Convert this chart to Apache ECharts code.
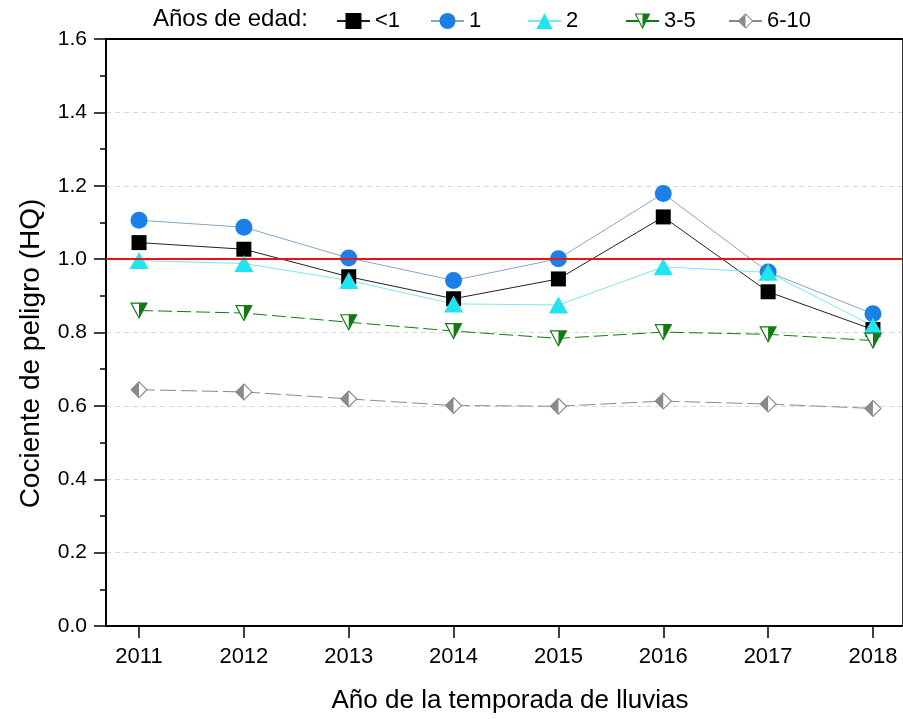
<!DOCTYPE html>
<html>
<head>
<meta charset="utf-8">
<script src="https://cdn.jsdelivr.net/npm/echarts@6/dist/echarts.min.js"></script>
<style>
  html, body { margin: 0; padding: 0; background: #fff; overflow: hidden; }
  #chart { width: 903px; height: 719px; }
</style>
</head>
<body>
<div id="chart"></div>
<script>
// Hazard quotient by rainy-season year and age group
const years = [2011, 2012, 2013, 2014, 2015, 2016, 2017, 2018];
const yTicks = [0, 0.2, 0.4, 0.6, 0.8, 1.0, 1.2, 1.4, 1.6];
const ageGroups = ['<1', '1', '2', '3-5', '6-10'];

const hqUnder1 = [1.045, 1.027, 0.952, 0.892, 0.946, 1.115, 0.911, 0.808];
const hqAge1   = [1.106, 1.087, 1.003, 0.942, 1.001, 1.179, 0.965, 0.851];
const hqAge2   = [0.996, 0.988, 0.942, 0.878, 0.875, 0.979, 0.964, 0.818];
const hqAge3to5  = [0.860, 0.853, 0.828, 0.804, 0.784, 0.801, 0.795, 0.778];
const hqAge6to10 = [0.644, 0.638, 0.619, 0.601, 0.599, 0.613, 0.605, 0.593];
const threshold = 1.0;

const FONT = 'Arial, "Liberation Sans", sans-serif';

function svgSymbol(w, h, body) {
  const svg = "<svg xmlns='http://www.w3.org/2000/svg' width='" + w + "' height='" + h +
    "' viewBox='0 0 " + w + " " + h + "'>" + body + "</svg>";
  return 'image://data:image/svg+xml;charset=utf-8,' + encodeURIComponent(svg);
}

// half-filled marker shapes
const downTriHalf = svgSymbol(34, 32,
  "<path d='M2 2 L32 2 L17 30 Z' fill='#ffffff' stroke='#127a12' stroke-width='2.2' stroke-linejoin='miter'/>" +
  "<path d='M17 2 L32 2 L17 30 Z' fill='#127a12'/>");
const diamondHalf = svgSymbol(34, 34,
  "<path d='M17 2 L32 17 L17 32 L2 17 Z' fill='#ffffff' stroke='#8a8a8a' stroke-width='2.2'/>" +
  "<path d='M17 2 L2 17 L17 32 Z' fill='#8a8a8a'/>");

function pairs(vals) {
  return years.map((y, i) => [y, vals[i]]);
}

const seriesDefs = [
  { name: ageGroups[0], data: hqUnder1, symbol: 'rect', size: 15, color: '#000000', line: '#222222', type: 'solid' },
  { name: ageGroups[1], data: hqAge1, symbol: 'circle', size: 17, color: '#1a7fe6', line: '#86a6c6', type: 'solid' },
  { name: ageGroups[2], data: hqAge2, symbol: 'triangle', size: [19, 17], color: '#22e4ee', line: '#7ee6ee', type: 'solid' },
  { name: ageGroups[3], data: hqAge3to5, symbol: downTriHalf, size: [18, 17], color: '#127a12', line: '#127a12', type: [14, 5] },
  { name: ageGroups[4], data: hqAge6to10, symbol: diamondHalf, size: [18, 18], color: '#8a8a8a', line: '#8a8a8a', type: [16, 5] }
];

const series = seriesDefs.map(d => ({
  name: d.name,
  type: 'line',
  data: pairs(d.data),
  symbol: d.symbol,
  symbolSize: d.size,
  showAllSymbol: true,
  z: 3,
  itemStyle: { color: d.color, opacity: 1 },
  lineStyle: { color: d.line, width: 1, type: d.type },
  emphasis: { disabled: true },
  animation: false
}));

// reference level HQ = 1
series.unshift({
  type: 'line',
  data: [],
  z: 2,
  silent: true,
  animation: false,
  markLine: {
    symbol: 'none',
    silent: true,
    label: { show: false },
    lineStyle: { color: '#e8141a', width: 2, type: 'solid' },
    data: [{ yAxis: threshold }]
  }
});

const legendLeft = [336, 430, 527, 625, 728];
const legends = ageGroups.map((g, i) => ({
  data: [g],
  left: legendLeft[i],
  top: 10,
  padding: 0,
  itemWidth: 33,
  itemHeight: 20,
  itemGap: 5,
  selectedMode: false,
  textStyle: { fontFamily: FONT, fontSize: 22, color: '#000' }
}));

const chart = echarts.init(document.getElementById('chart'), null, { renderer: 'canvas' });
chart.setOption({
  backgroundColor: '#ffffff',
  animation: false,
  title: {
    text: 'Años de edad:',
    left: 153,
    top: 7,
    padding: 0,
    textStyle: { fontFamily: FONT, fontSize: 24, fontWeight: 'normal', color: '#000' }
  },
  legend: legends,
  grid: { left: 106, right: 1, top: 39, bottom: 91, containLabel: false },
  xAxis: [{
    type: 'value',
    min: 2010.685,
    max: 2018.277,
    name: 'Año de la temporada de lluvias',
    nameLocation: 'middle',
    nameGap: 62,
    nameTextStyle: { fontFamily: FONT, fontSize: 26, color: '#000', padding: [0, 0, 0, 12] },
    axisLine: { show: true, onZero: false, lineStyle: { color: '#000', width: 2 } },
    axisTick: { show: true, inside: false, length: 12, customValues: years, lineStyle: { color: '#000', width: 1.5 } },
    axisLabel: { show: true, customValues: years, margin: 20, fontFamily: FONT, fontSize: 22, color: '#000', formatter: v => String(v) },
    splitLine: { show: false }
  }, {
    type: 'value',
    position: 'top',
    min: 2010.685,
    max: 2018.277,
    axisLine: { show: true, onZero: false, lineStyle: { color: '#000', width: 2 } },
    axisTick: { show: false },
    axisLabel: { show: false },
    splitLine: { show: false }
  }],
  yAxis: [{
    type: 'value',
    min: yTicks[0],
    max: yTicks[yTicks.length - 1],
    interval: 0.2,
    name: 'Cociente de peligro (HQ)',
    nameLocation: 'middle',
    nameGap: 61,
    nameTextStyle: { fontFamily: FONT, fontSize: 28, color: '#000', padding: [0, 42, 0, 0] },
    axisLine: { show: true, onZero: false, lineStyle: { color: '#000', width: 2 } },
    axisTick: { show: true, inside: false, length: 12, lineStyle: { color: '#000', width: 1.5 } },
    minorTick: { show: true, splitNumber: 2, length: 6, lineStyle: { color: '#000', width: 1.5 } },
    axisLabel: { margin: 19, fontFamily: FONT, fontSize: 21, color: '#000', formatter: v => v.toFixed(1) },
    splitLine: { show: true, showMinLine: false, showMaxLine: false, lineStyle: { color: '#d9d9d9', width: 1, type: [5, 4] } }
  }, {
    type: 'value',
    position: 'right',
    min: yTicks[0],
    max: yTicks[yTicks.length - 1],
    interval: 0.2,
    axisLine: { show: true, onZero: false, lineStyle: { color: '#333', width: 1 } },
    axisTick: { show: false },
    axisLabel: { show: false },
    splitLine: { show: false }
  }],
  series: series
});
</script>
</body>
</html>
